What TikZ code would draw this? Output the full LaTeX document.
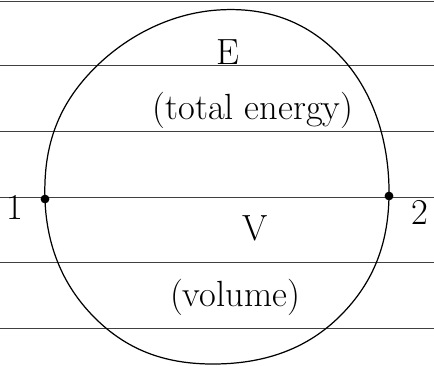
\documentclass[tikz,border=0pt]{standalone}
\usepackage{tikz}
\usetikzlibrary{positioning}
\tikzset{
  ruled/.style={black!75, line width=0.5pt},
  pt/.style={circle, fill=black, inner sep=0pt, minimum size=5pt},
  label/.style={font=\huge, inner sep=1pt},
}
\begin{document}
\begin{tikzpicture}[x=0.02cm, y=-0.02cm]
\useasboundingbox (0,0) rectangle (434,366);
% ruled paper
\foreach \ly in {1,65,131,197,262,328}
  \draw[ruled] (0,\ly) -- (434,\ly);
% the region
\draw[line width=0.7pt] plot[smooth cycle, tension=0.7] coordinates {
  (218,10) (342,58) (389,196) (338,318) (215,364) (97,320) (45,200) (88,75)};
% end points
\node[pt] (p1) at (45,199) {};
\node[pt] (p2) at (389,196) {};
\node[label] (one) at (15,207) {1};
\node[label] (two) at (420,212) {2};
% labels
\node[label] (E) at (228,52) {E};
\node[label] (tot) at (253,110) {(total energy)};
\node[label] (V) at (255,228) {V};
\node[label] (vol) at (235,297) {(volume)};
\end{tikzpicture}
\end{document}
